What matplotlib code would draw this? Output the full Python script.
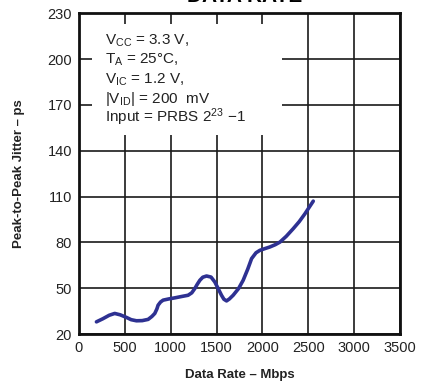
import matplotlib.pyplot as plt
from matplotlib.patches import Rectangle

plt.rcParams['font.family'] = ['Liberation Sans', 'DejaVu Sans']
plt.rcParams['mathtext.fontset'] = 'custom'
plt.rcParams['mathtext.rm'] = 'Liberation Sans'
plt.rcParams['mathtext.it'] = 'Liberation Sans'

# Data
data_rate = [191, 260, 330, 390, 450, 518, 570, 627, 690, 754, 795, 827, 850, 863,
             890, 918, 980, 1045, 1120, 1190, 1230, 1263, 1290, 1318, 1350, 1391,
             1440, 1481, 1520, 1554, 1580, 1609, 1640, 1681, 1740, 1790, 1840, 1882,
             1930, 1972, 2030, 2081, 2140, 2191, 2260, 2336, 2400, 2463, 2510, 2554]
jitter = [28.0, 30.0, 32.3, 33.5, 32.6, 30.9, 29.4, 28.7, 28.8, 29.6, 31.5, 33.5, 36.5, 38.9,
          41.0, 42.2, 43.0, 43.7, 44.6, 45.4, 47.0, 49.8, 52.6, 55.2, 57.2, 58.0,
          57.3, 54.1, 49.5, 45.4, 42.8, 41.7, 43.0, 45.4, 49.8, 55.2, 62.5, 69.4,
          73.2, 74.8, 76.0, 77.0, 78.5, 80.2, 84.0, 89.0, 93.5, 98.7, 103.0, 107.0]

xticks = [0, 500, 1000, 1500, 2000, 2500, 3000, 3500]
yticks = [20, 50, 80, 110, 140, 170, 200, 230]

fig = plt.figure(figsize=(4.22, 3.88), dpi=100)
ax = fig.add_axes([0.187, 0.139, 0.761, 0.827])

ax.plot(data_rate, jitter, color='#2e3192', lw=2.6, solid_capstyle='round',
        solid_joinstyle='round', zorder=4)

ax.set_xlim(0, 3500)
ax.set_ylim(20, 230)
ax.set_xticks(xticks)
ax.set_yticks(yticks)
ax.tick_params(labelsize=10.5, length=0, pad=5, colors='#222222')
ax.grid(True, color='#1a1a1a', lw=1.2)
ax.set_axisbelow(True)
for s in ax.spines.values():
    s.set_linewidth(2)
    s.set_color('#111111')

# white box behind the conditions text
ax.add_patch(Rectangle((140, 150), 2070, 73, facecolor='white', edgecolor='none', zorder=2))

lines = [r'V$_{\mathrm{CC}}$ = 3.3 V,',
         r'T$_{\mathrm{A}}$ = 25°C,',
         r'V$_{\mathrm{IC}}$ = 1.2 V,',
         r'|V$_{\mathrm{ID}}$| = 200  mV',
         r'Input = PRBS 2$^{\mathrm{23}}$ −1']
ys = [212, 199.5, 186.5, 174, 162]
for t, yy in zip(lines, ys):
    ax.text(281, yy, t, fontsize=11, va='center', ha='left', color='#222222', zorder=5)

ax.set_xlabel('Data Rate – Mbps', fontsize=9.5, fontweight='bold', labelpad=10, color='#222222')
ax.set_ylabel('Peak-to-Peak Jitter – ps', fontsize=9.5, fontweight='bold', labelpad=16, color='#222222')

fig.text(0.58, 1.008, 'DATA RATE', fontsize=15, fontweight='bold', ha='center', va='center')

fig.savefig('out.png', dpi=100)
